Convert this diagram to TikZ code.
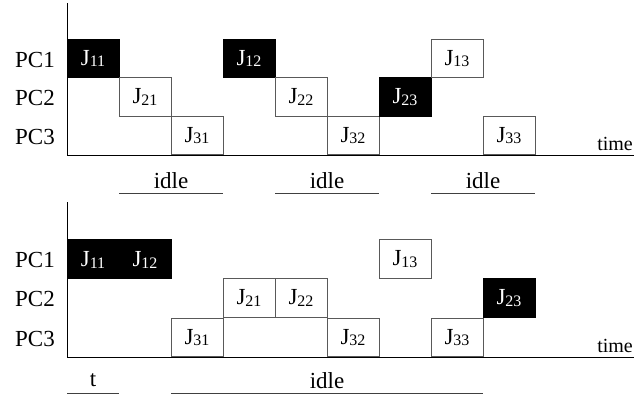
\documentclass[tikz,border=0pt]{standalone}
\usepackage{fontspec}
\setmainfont{Liberation Serif}
\begin{document}
\newcommand{\jobl}[1]{J\raisebox{-1.5pt}{\fontsize{16}{16}\selectfont #1}}
\begin{tikzpicture}[x=1pt,y=-1pt,
  cell/.style={draw=black!65,line width=0.9pt,minimum width=52pt,minimum height=38.7pt,
    inner sep=0pt,font=\fontsize{23}{23}\selectfont},
  busy/.style={cell,fill=black,draw=black,text=white},
  rowlbl/.style={font=\fontsize{23}{23}\selectfont,inner sep=0pt},
  axis/.style={line width=0.9pt,black},
  under/.style={line width=1pt,black!75},
  note/.style={font=\fontsize{23}{23}\selectfont,inner sep=0pt,anchor=base},
  timelbl/.style={font=\fontsize{20}{20}\selectfont,inner sep=0pt,anchor=base east}]
\useasboundingbox (0,0) rectangle (634,399);

% ---------- first schedule ----------
\coordinate (ta0) at (67,3);
\coordinate (ta1) at (67,155);
\coordinate (ta2) at (634,155);
\draw[axis] (ta0) -- (ta1) -- (ta2);

\node[rowlbl] (tp1) at (35,59.5) {PC1};
\node[rowlbl] (tp2) at (35,98)   {PC2};
\node[rowlbl] (tp3) at (35,136.5){PC3};

\node[busy] (t11) at (93,58.5)  {\jobl{11}};
\node[cell] (t21) at (145,97)   {\jobl{21}};
\node[cell] (t31) at (197,135.5){\jobl{31}};
\node[busy] (t12) at (249,58.5) {\jobl{12}};
\node[cell] (t22) at (301,97)   {\jobl{22}};
\node[cell] (t32) at (353,135.5){\jobl{32}};
\node[busy] (t23) at (405,97)   {\jobl{23}};
\node[cell] (t13) at (457,58.5) {\jobl{13}};
\node[cell] (t33) at (509,135.5){\jobl{33}};

\node[timelbl] (ttime) at (633,150) {time};

\coordinate (ti1a) at (119,193); \coordinate (ti1b) at (223,193);
\coordinate (ti2a) at (275,193); \coordinate (ti2b) at (379,193);
\coordinate (ti3a) at (431,193); \coordinate (ti3b) at (535,193);
\draw[under] (ti1a) -- (ti1b);
\draw[under] (ti2a) -- (ti2b);
\draw[under] (ti3a) -- (ti3b);
\node[note] (tidle1) at (171,188) {idle};
\node[note] (tidle2) at (327,188) {idle};
\node[note] (tidle3) at (483,188) {idle};

% ---------- second schedule ----------
\coordinate (ba0) at (67,202);
\coordinate (ba1) at (67,357);
\coordinate (ba2) at (634,357);
\draw[axis] (ba0) -- (ba1) -- (ba2);

\node[rowlbl] (bp1) at (35,260)  {PC1};
\node[rowlbl] (bp2) at (35,299)  {PC2};
\node[rowlbl] (bp3) at (35,338.5){PC3};

\node[busy,minimum width=104pt] (b1112) at (119,259) {};
\node[font=\fontsize{23}{23}\selectfont,text=white,inner sep=0pt] (b11) at (93,260) {\jobl{11}};
\node[font=\fontsize{23}{23}\selectfont,text=white,inner sep=0pt] (b12) at (145,260) {\jobl{12}};
\node[cell] (b31) at (197,337.5){\jobl{31}};
\node[cell] (b21) at (249,298)  {\jobl{21}};
\node[cell] (b22) at (301,298)  {\jobl{22}};
\node[cell] (b32) at (353,337.5){\jobl{32}};
\node[cell] (b13) at (405,259)  {\jobl{13}};
\node[cell] (b33) at (457,337.5){\jobl{33}};
\node[busy] (b23) at (509,298)  {\jobl{23}};
\coordinate (bv0) at (223,318);
\coordinate (bv1) at (223,357);
\draw[draw=black!65,line width=0.9pt] (bv0) -- (bv1);

\node[timelbl] (btime) at (633,352) {time};

\coordinate (bt1) at (67,393);  \coordinate (bt2) at (119,393);
\coordinate (bi1) at (171,393); \coordinate (bi2) at (483,393);
\draw[under] (bt1) -- (bt2);
\draw[under] (bi1) -- (bi2);
\node[note] (bt) at (93,386) {t};
\node[note] (bidle) at (327,388) {idle};
\end{tikzpicture}
\end{document}
